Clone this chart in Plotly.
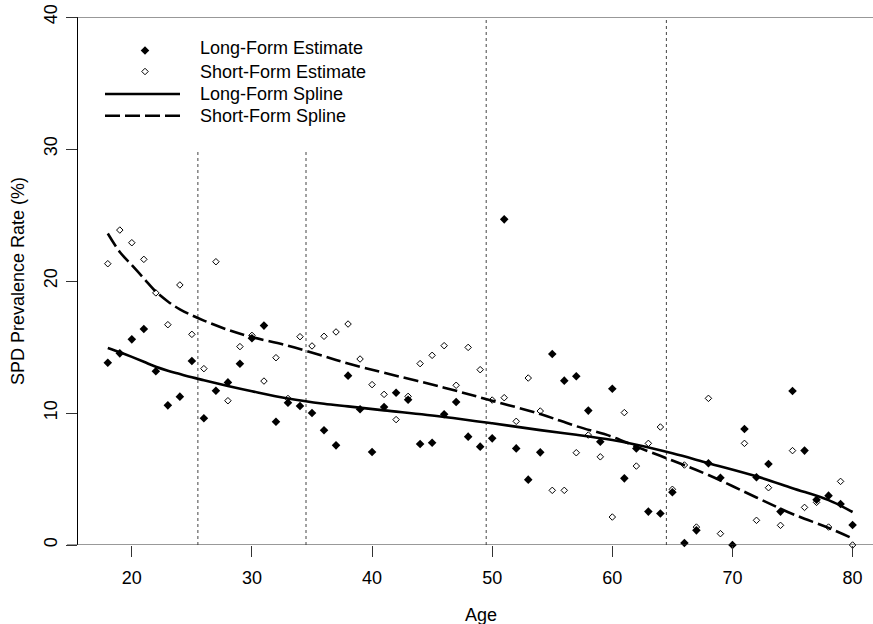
import plotly.graph_objects as go

# ---------------- data ----------------
ages = list(range(18, 81))
long_est = [13.81, 14.52, 15.58, 16.36, 13.16, 10.58, 11.24, 13.94, 9.60, 11.69,
            12.32, 13.73, 15.66, 16.62, 9.34, 10.78, 10.53, 10.00, 8.69, 7.55,
            12.83, 10.28, 7.05, 10.45, 11.54, 11.01, 7.65, 7.75, 9.90, 10.83,
            8.21, 7.45, 8.08, 24.67, 7.32, 4.95, 7.02, 14.47, 12.45, 12.78,
            10.18, 7.82, 11.84, 5.05, 7.32, 2.53, 2.38, 3.99, 0.15, 1.11,
            6.19, 5.10, 0.00, 8.79, 5.13, 6.14, 2.53, 11.67, 7.15, 3.43,
            3.74, 3.10, 1.51]
short_est = [21.31, 23.86, 22.90, 21.64, 19.10, 16.69, 19.70, 15.96, 13.36, 21.46,
             10.93, 15.03, 15.88, 12.42, 14.19, 11.10, 15.78, 15.08, 15.81, 16.14,
             16.74, 14.09, 12.15, 11.41, 9.50, 11.26, 13.74, 14.37, 15.10, 12.10,
             14.97, 13.28, 10.98, 11.16, 9.37, 12.65, 10.15, 4.14, 4.14, 6.99,
             8.33, 6.68, 2.12, 10.03, 5.98, 7.70, 8.94, 4.22, 6.06, 1.36,
             11.11, 0.86, 0.00, 7.70, 1.87, 4.34, 1.49, 7.15, 2.85, 3.23,
             1.36, 4.82, 0.00]

spline_ages = [18, 19, 20, 21, 22, 23, 24, 25, 26, 28, 30, 33, 36, 38, 41, 46,
               50, 54, 57, 60, 62, 65, 68, 72, 75, 78, 80]
long_spline = [14.92, 14.60, 14.25, 13.88, 13.50, 13.20, 12.95, 12.70, 12.48, 12.05,
               11.65, 11.10, 10.70, 10.50, 10.20, 9.70, 9.22, 8.70, 8.35, 7.95,
               7.60, 6.95, 6.20, 5.20, 4.30, 3.40, 2.50]
short_spline = [23.60, 22.20, 21.20, 20.20, 19.20, 18.45, 17.85, 17.40, 17.00, 16.30,
                15.75, 15.10, 14.30, 13.75, 13.05, 11.92, 10.93, 9.92, 9.00, 8.20,
                7.45, 6.40, 5.30, 3.60, 2.35, 1.30, 0.50]

cut_ages = [25.5, 34.5, 49.5, 64.5]
cut_tops = [30, 30, 40, 40]

x_ticks = [20, 30, 40, 50, 60, 70, 80]
y_ticks = [0, 10, 20, 30, 40]

legend_labels = ["Long-Form Estimate", "Short-Form Estimate",
                 "Long-Form Spline", "Short-Form Spline"]

FONT = "Liberation Sans, Arial, Helvetica, sans-serif"
DASH = "15px,5px"

# ---------------- geometry ----------------
W, H = 873, 624
ML, MR, MT, MB = 78, 0, 17, 79
PW, PH = W - ML - MR, H - MT - MB

fig = go.Figure()

fig.add_trace(go.Scatter(x=spline_ages, y=long_spline, mode="lines",
                         line=dict(color="black", width=2.6, shape="spline", smoothing=1.0),
                         showlegend=False, hoverinfo="skip"))
fig.add_trace(go.Scatter(x=spline_ages, y=short_spline, mode="lines",
                         line=dict(color="black", width=2.6, dash=DASH,
                                   shape="spline", smoothing=1.0),
                         showlegend=False, hoverinfo="skip"))
fig.add_trace(go.Scatter(x=ages, y=long_est, mode="markers", cliponaxis=False,
                         marker=dict(symbol="diamond", size=6.6, color="black"),
                         showlegend=False))
fig.add_trace(go.Scatter(x=ages, y=short_est, mode="markers", cliponaxis=False,
                         marker=dict(symbol="diamond-open", size=5, color="black",
                                     line=dict(width=1, color="black")),
                         showlegend=False))

# vertical dotted reference lines
for a, top in zip(cut_ages, cut_tops):
    fig.add_shape(type="line", xref="x", yref="y", x0=a, x1=a, y0=0, y1=top,
                  line=dict(color="#444444", width=1, dash="dot"), layer="below")

# horizontal lines at 0 and 40
for yv in (y_ticks[0], y_ticks[-1]):
    fig.add_shape(type="line", xref="paper", yref="y", x0=-11 / PW, x1=1, y0=yv, y1=yv,
                  line=dict(color="#333333", width=1))

# ---------------- legend (overlay axes in pixel units of plot area) ----------------
fig.add_trace(go.Scatter(x=[67], y=[33.5], xaxis="x2", yaxis="y2", mode="markers",
                         marker=dict(symbol="diamond", size=6.6, color="black"),
                         showlegend=False, hoverinfo="skip", cliponaxis=False))
fig.add_trace(go.Scatter(x=[67], y=[54.5], xaxis="x2", yaxis="y2", mode="markers",
                         marker=dict(symbol="diamond-open", size=5, color="black",
                                     line=dict(width=1, color="black")),
                         showlegend=False, hoverinfo="skip", cliponaxis=False))
fig.add_trace(go.Scatter(x=[27, 102], y=[77, 77], xaxis="x2", yaxis="y2", mode="lines",
                         line=dict(color="black", width=2.6),
                         showlegend=False, hoverinfo="skip"))
fig.add_trace(go.Scatter(x=[27, 102], y=[98.7, 98.7], xaxis="x2", yaxis="y2", mode="lines",
                         line=dict(color="black", width=2.6, dash=DASH),
                         showlegend=False, hoverinfo="skip"))
for lab, yy in zip(legend_labels, [31, 54.5, 77, 98.7]):
    fig.add_annotation(xref="x2", yref="y2", x=120, y=yy, text=lab, showarrow=False,
                       xanchor="left", yanchor="middle",
                       font=dict(family=FONT, size=18, color="black"))

# axis titles
fig.add_annotation(xref="paper", yref="paper", x=(480.5 - ML) / PW, y=0, yshift=-70,
                   text="Age", showarrow=False, xanchor="center", yanchor="middle",
                   font=dict(family=FONT, size=18, color="black"))
fig.add_annotation(xref="paper", yref="paper", x=0, xshift=-(ML - 18), y=0.5,
                   text="SPD Prevalence Rate (%)", showarrow=False, textangle=-90,
                   xanchor="center", yanchor="middle",
                   font=dict(family=FONT, size=18, color="black"))

fig.update_layout(
    width=W, height=H,
    margin=dict(l=ML, r=MR, t=MT, b=MB, pad=0, autoexpand=False),
    paper_bgcolor="white", plot_bgcolor="white",
    showlegend=False,
    font=dict(family=FONT, size=18, color="black"),
    xaxis=dict(range=[15.52, 81.70], tickvals=x_ticks, ticktext=[str(t) for t in x_ticks],
               showgrid=False, zeroline=False, showline=False, automargin=False,
               ticks="outside", ticklen=11, tickwidth=1, tickcolor="#333333",
               ticklabelstandoff=5, ticklabeloverflow="allow",
               tickfont=dict(family=FONT, size=18, color="black")),
    yaxis=dict(range=[0, 40], tickvals=y_ticks, ticktext=[str(t) for t in y_ticks],
               showgrid=False, zeroline=False, showline=True, linecolor="black",
               linewidth=1, ticks="outside", ticklen=11, tickwidth=1, tickcolor="#333333",
               tickangle=-90, ticklabelstandoff=2, ticklabeloverflow="allow",
               automargin=False,
               tickfont=dict(family=FONT, size=18, color="black")),
    xaxis2=dict(range=[0, PW], overlaying="x", anchor="y2", visible=False, automargin=False),
    yaxis2=dict(range=[PH, 0], overlaying="y", anchor="x2", visible=False, automargin=False),
)

fig.write_html("out.html",
               config={"displayModeBar": False},
               post_script="document.body.style.margin='0';document.body.style.overflow='hidden';")
